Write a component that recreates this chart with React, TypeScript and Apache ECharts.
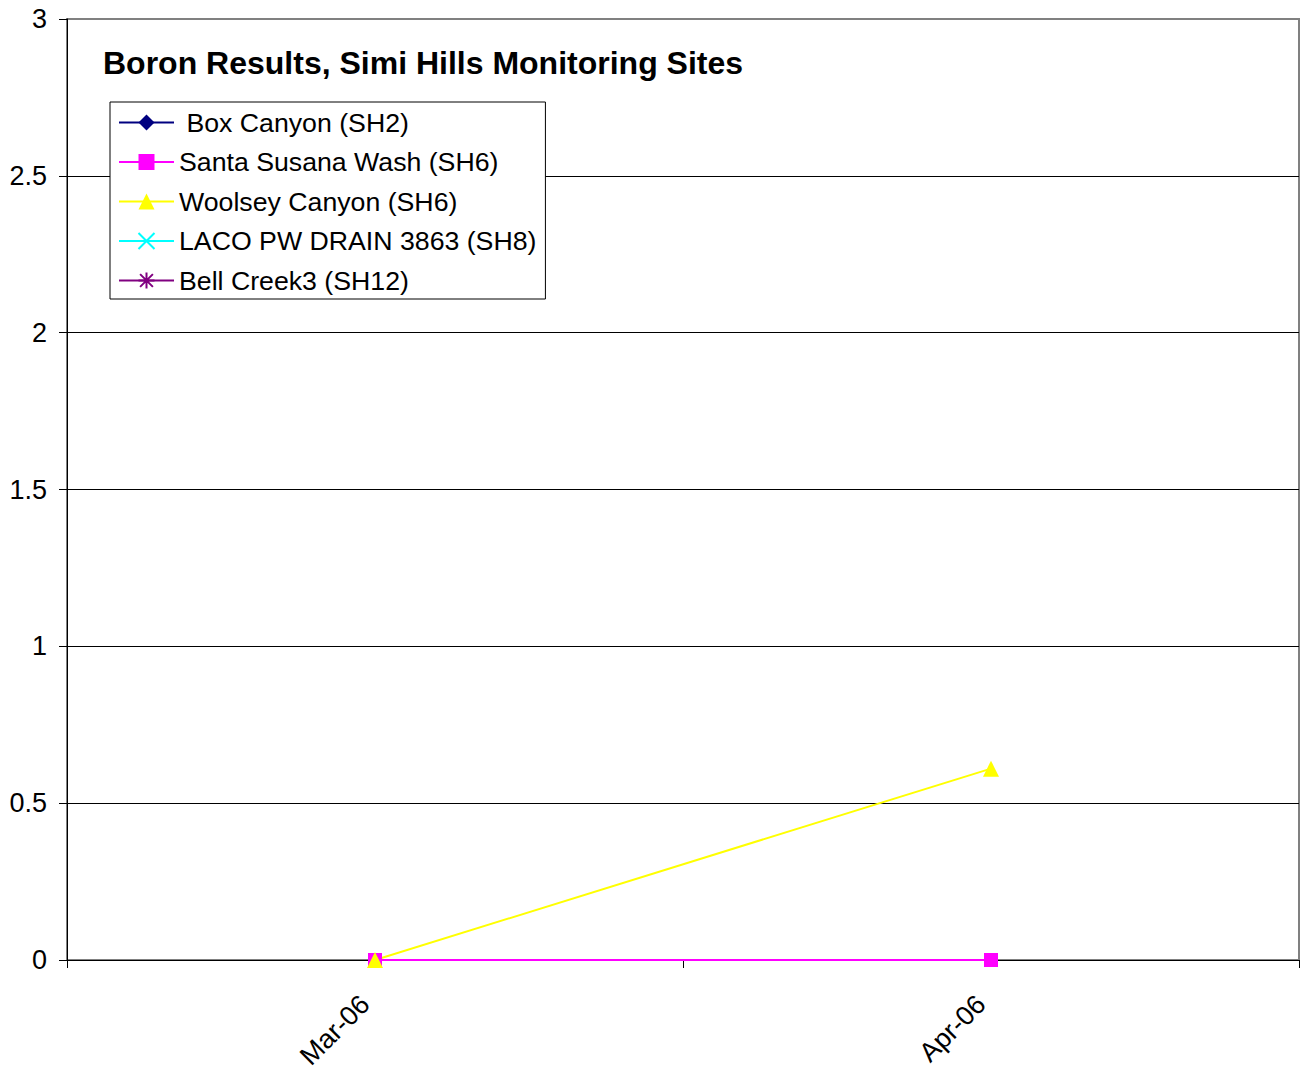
import React, { useEffect, useRef } from "react";
import * as echarts from "echarts";

const categories = ["Mar-06", "Apr-06"];
const boxCanyon: (number | null)[] = [null, null];
const santaSusana: (number | null)[] = [0, 0];
const woolsey: (number | null)[] = [0, 0.61];
const laco: (number | null)[] = [null, null];
const bellCreek: (number | null)[] = [null, null];
const yTicks = [0, 0.5, 1, 1.5, 2, 2.5, 3];

const FONT = "Liberation Sans, Arial, sans-serif";

export default function App() {
  const ref = useRef<HTMLDivElement>(null);
  useEffect(() => {
    document.body.style.margin = "0";
    const chart = echarts.init(ref.current!, null, { renderer: "svg" });
    const mk = (name: string, data: (number | null)[], color: string, symbol: string, size: number) => ({
      name,
      type: "line",
      data,
      symbol,
      symbolSize: size,
      showAllSymbol: true,
      connectNulls: false,
      lineStyle: { color, width: 2 },
      itemStyle: { color, borderWidth: 0 },
    });
    const crossPath = "path://M0,0 L10,10 M10,0 L0,10";
    const starPath = "path://M5,0 L5,10 M0,5 L10,5 M1,1 L9,9 M9,1 L1,9";
    chart.setOption({
      animation: false,
      backgroundColor: "#fff",
      textStyle: { fontFamily: FONT },
      title: {
        text: "Boron Results, Simi Hills Monitoring Sites",
        left: 98,
        top: 42,
        textStyle: { fontFamily: FONT, fontSize: 32, fontWeight: "bold", color: "#000" },
      },
      legend: {
        orient: "vertical",
        left: 110,
        top: 102,
        padding: [7, 9, 5, 8],
        itemWidth: 55,
        itemHeight: 20,
        itemGap: 12.5,
        borderColor: "#000",
        borderWidth: 1,
        backgroundColor: "#fff",
        textStyle: { fontFamily: FONT, fontSize: 26.7, color: "#000" },
        data: [
          { name: " Box Canyon (SH2)" },
          { name: "Santa Susana Wash (SH6)" },
          { name: "Woolsey Canyon (SH6)" },
          { name: "LACO PW DRAIN 3863 (SH8)" },
          { name: "Bell Creek3 (SH12)" },
        ],
      },
      grid: {
        left: 67,
        right: 1,
        top: 19,
        bottom: 110,
        show: true,
        borderColor: "#808080",
        borderWidth: 2,
        outerBoundsMode: "none",
        containLabel: false,
      },
      xAxis: {
        type: "category",
        data: categories,
        boundaryGap: true,
        axisLine: { lineStyle: { color: "#000", width: 1 } },
        axisTick: { show: true, length: 8, lineStyle: { color: "#000" } },
        axisLabel: {
          rotate: 45,
          fontFamily: FONT,
          fontSize: 27,
          color: "#000",
          margin: 30,
          padding: [0, 14, 0, 0],
        },
      },
      yAxis: {
        type: "value",
        min: yTicks[0],
        max: yTicks[yTicks.length - 1],
        interval: 0.5,
        axisLine: { show: true, lineStyle: { color: "#000", width: 1 } },
        axisTick: { show: true, length: 8, lineStyle: { color: "#000" } },
        axisLabel: { fontFamily: FONT, fontSize: 27, color: "#000", margin: 20 },
        splitLine: { show: true, showMaxLine: false, lineStyle: { color: "#000", width: 1 } },
      },
      series: [
        mk(" Box Canyon (SH2)", boxCanyon, "#000080", "diamond", 14),
        mk("Santa Susana Wash (SH6)", santaSusana, "#FF00FF", "rect", 14),
        mk("Woolsey Canyon (SH6)", woolsey, "#FFFF00", "triangle", 16),
        {
          ...mk("LACO PW DRAIN 3863 (SH8)", laco, "#00FFFF", crossPath, 14),
          itemStyle: { color: "none", borderColor: "#00FFFF", borderWidth: 2 },
        },
        {
          ...mk("Bell Creek3 (SH12)", bellCreek, "#800080", starPath, 14),
          itemStyle: { color: "none", borderColor: "#800080", borderWidth: 2 },
        },
      ],
    });
    return () => chart.dispose();
  }, []);
  return <div ref={ref} style={{ width: 1300, height: 1070 }} />;
}
